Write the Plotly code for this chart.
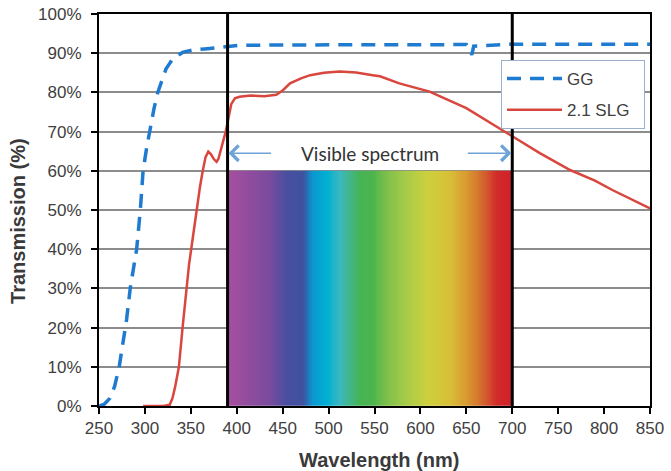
import numpy as np
import plotly.graph_objects as go

# ---- data ----
gg_nm = [250, 256, 262, 267, 272, 276, 280, 284, 288, 291, 295, 298, 302, 305, 310, 314,
         318, 323, 327, 330, 341, 352, 365, 378, 390, 403, 450, 550, 650, 654, 656, 658,
         700, 800, 850]
gg_t = [0, 0.5, 2, 5, 10, 16, 22, 30, 36, 40, 50, 60, 66, 70, 76, 80,
        83, 86, 87.4, 88.5, 90.2, 90.8, 91.1, 91.4, 91.5, 92.0, 92.1, 92.2, 92.2, 90.5, 89.6, 91.8,
        92.3, 92.3, 92.3]

slg_nm = [298, 310, 320, 327, 330, 333, 337, 341, 345, 348, 351, 356, 360, 363, 366, 369,
          372, 375, 378, 380, 384, 388, 391, 394, 398, 403, 415, 430, 443, 450, 458, 470,
          480, 495, 512, 530, 548, 556, 577, 610, 650, 686, 701, 730, 763, 790, 809, 830, 850]
slg_t = [0, 0, 0, 0.3, 2, 5, 10, 20, 30, 36, 41, 50, 56, 60, 63.5, 64.9,
         64.2, 63.0, 62.3, 63.0, 66.5, 70.0, 73.5, 77.0, 78.5, 78.9, 79.2, 79.0, 79.4, 80.5, 82.3, 83.6,
         84.4, 85.0, 85.3, 85.1, 84.4, 84.1, 82.3, 80.2, 76.0, 70.9, 68.7, 64.5, 60.2, 57.5, 55.1, 52.8, 50.4]

vis_min, vis_max = 390, 700
spectrum_top = 60
spec_nm = [390, 415, 436, 454, 472, 483, 498, 512, 534, 548, 563, 585, 607, 632, 650, 665, 683, 700]
spec_col = ["#a94f9f", "#8e4c9e", "#7a4b9e", "#4a4fa0", "#3f51a0", "#0a98d0", "#00b0d2", "#3bb8c0",
            "#46b454", "#4cb44e", "#7ec04a", "#a8cc48", "#cdd03e", "#d8bf38", "#d99a30", "#d4702e",
            "#d22a2a", "#d0202a"]

x_ticks = list(range(250, 851, 50))
y_ticks = list(range(0, 101, 10))
y_ticktext = [f"{v}%" for v in y_ticks]

# ---- figure ----
fig = go.Figure()

edges = np.linspace(vis_min, vis_max, 311)
centers = (edges[:-1] + edges[1:]) / 2
cscale = [[(n - vis_min) / (vis_max - vis_min), c] for n, c in zip(spec_nm, spec_col)]
fig.add_trace(go.Heatmap(x=edges, y=[0, spectrum_top], z=[centers], colorscale=cscale,
                         zmin=vis_min, zmax=vis_max, showscale=False, hoverinfo="skip",
                         showlegend=False))

fig.add_trace(go.Scatter(x=gg_nm, y=gg_t, mode="lines", name="GG", legendgroup="a",
                         line=dict(color="#1f7bd0", width=3.5, dash="14px,9px")))
fig.add_trace(go.Scatter(x=slg_nm, y=slg_t, mode="lines", name="2.1 SLG\u00a0\u00a0", legendgroup="b",
                         line=dict(color="#d9463e", width=2.5)))

for xv in (vis_min, vis_max):
    fig.add_shape(type="line", x0=xv, x1=xv, y0=0, y1=1, xref="x", yref="paper",
                  line=dict(color="black", width=3), layer="above")

txt_color = "#404040"
fig.add_annotation(x=545, y=64.5, text="Visible spectrum", showarrow=False,
                   font=dict(family="Lato", size=19, color="#333333"))
fig.add_annotation(x=vis_min + 1, y=64.5, ax=439, ay=64.5, axref="x", ayref="y", text="",
                   showarrow=True, arrowhead=4, arrowsize=2, arrowwidth=1.5, arrowcolor="#6fa3d8")
fig.add_annotation(x=vis_max - 1, y=64.5, ax=650, ay=64.5, axref="x", ayref="y", text="",
                   showarrow=True, arrowhead=4, arrowsize=2, arrowwidth=1.5, arrowcolor="#6fa3d8")

fig.add_annotation(x=-0.147, y=0.472, xref="paper", yref="paper", text="<b>Transmission (%)</b>",
                   textangle=-90, showarrow=False, xanchor="center", yanchor="middle",
                   font=dict(family="Liberation Sans", size=20, color="#3a3a3a"))
fig.add_annotation(x=0.509, y=-0.138, xref="paper", yref="paper", text="<b>Wavelength (nm)</b>",
                   showarrow=False, xanchor="center", yanchor="middle",
                   font=dict(family="Liberation Sans", size=20, color="#3a3a3a"))

fig.update_xaxes(range=[250, 850], tickvals=x_ticks, ticks="outside", ticklen=6, tickwidth=2,
                 tickcolor="black", showline=True, linecolor="black", linewidth=2, mirror=True,
                 showgrid=False, zeroline=False, automargin=False,
                 tickfont=dict(family="Liberation Sans", size=17, color=txt_color))
fig.update_yaxes(range=[0, 100], tickvals=y_ticks, ticktext=y_ticktext, ticks="outside", ticklen=6,
                 tickwidth=2, tickcolor="black", showline=True, linecolor="black", linewidth=2,
                 mirror=True, showgrid=True, gridcolor="#8c8c8c", gridwidth=1.5, zeroline=False,
                 automargin=False, ticklabelstandoff=6,
                 tickfont=dict(family="Liberation Sans", size=17, color=txt_color))

fig.update_layout(
    width=671, height=471,
    margin=dict(l=99, r=21, t=14, b=65, autoexpand=False),
    paper_bgcolor="white", plot_bgcolor="white",
    showlegend=True,
    legend=dict(x=0.7296, y=0.8827, xanchor="left", yanchor="top", bgcolor="white",
                bordercolor="#9ab0cc", borderwidth=1, itemwidth=55, tracegroupgap=6,
                font=dict(family="Liberation Sans", size=17, color=txt_color)),
)

# remove the default 8px page margin so the figure sits at the window's top-left corner
fig.write_html("out.html", config={"displayModeBar": False},
               post_script="document.body.style.margin='0';")
